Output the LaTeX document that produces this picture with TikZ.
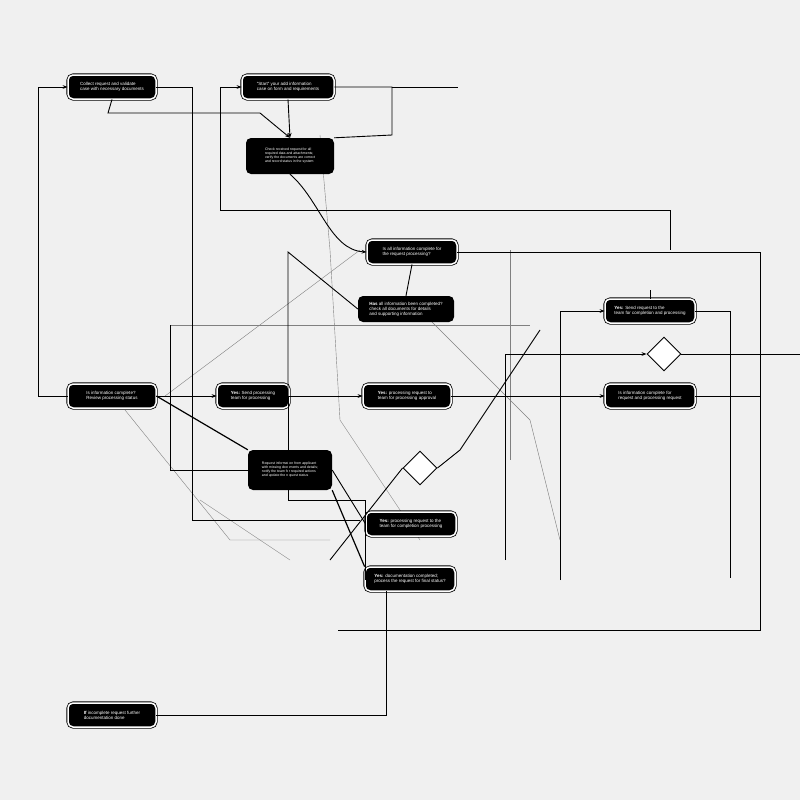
\documentclass[tikz,border=0pt]{standalone}
\usepackage{fontspec}
\setmainfont{Liberation Sans}
\usetikzlibrary{shapes.geometric,arrows.meta}
\begin{document}
\begin{tikzpicture}[x=1pt,y=-1pt,
 box/.style={fill=black,text=white,rounded corners=5pt,minimum height=24pt,font=\fontsize{4.5}{5}\selectfont,align=left,inner sep=2pt},
 ring/.style={box,double=white,draw=black,double distance=1.5pt,line width=0.8pt},
 dia/.style={diamond,draw,line width=0.9pt,fill=white,minimum size=34pt,inner sep=0pt},
 ln/.style={line width=0.9pt},
 thin/.style={line width=0.4pt,gray},
 arr/.style={ln,-{Stealth[length=5pt]}}]
\fill[white!94!black] (0,0) rectangle (800,800);
\useasboundingbox (0,0) rectangle (800,800);
% thin background lines
\draw[thin] (125,410) -- (230,540) -- (330,540);
\draw[thin] (165,396) -- (360,250);
\draw[thin] (430,320) -- (530,420) -- (560,540);
\draw[thin] (320,135) -- (330,250) -- (340,420) -- (420,540);
\draw[thin] (170,325) -- (530,325);
\draw[thin] (510,250) -- (510,460);
\draw[thin] (200,500) -- (290,560);
% nodes
\node[ring,minimum width=88pt] (A) at (112,87) {Collect request and validate\\ case with necessary documents};
\node[ring,minimum width=92pt] (B) at (288,87) {"Start" your add information\\ case on form and requirements};
\node[box,minimum width=88pt,minimum height=36pt,font=\fontsize{3.5}{4}\selectfont] (C) at (290,156) {Check received request for all\\ required data and attachments;\\ verify the documents are correct\\ and record status in the system};
\node[ring,minimum width=90pt] (D) at (412,252) {Is all information complete for\\ the request processing?};
\node[box,minimum width=96pt,minimum height=26pt] (E) at (406,309) {\textbf{Has} all information been completed?\\ check all documents for details\\ and supporting information};
\node[ring,minimum width=90pt] (F) at (650,311) {\textbf{Yes:} Send request to the\\ team for completion and processing};
\node[dia] (G) at (664,354) {};
\node[ring,minimum width=88pt] (H) at (112,396) {Is information complete?\\ Review processing status};
\node[ring,minimum width=72pt] (I) at (253,396) {\textbf{Yes:} Send processing\\ team for processing};
\node[ring,minimum width=88pt] (J) at (407,396) {\textbf{Yes:} processing request to\\ team for processing approval};
\node[ring,minimum width=90pt] (K) at (650,396) {Is information complete for\\ request and processing request};
\node[box,minimum width=84pt,minimum height=40pt,font=\fontsize{3.5}{4}\selectfont] (L) at (290,470) {Request information from applicant\\ with missing documents and details;\\ notify the team for required actions\\ and update the request status};
\node[dia] (M) at (420,468) {};
\node[ring,minimum width=90pt] (N) at (411,524) {\textbf{Yes:} processing request to the\\ team for completion processing};
\node[ring,minimum width=90pt] (O) at (410,579) {\textbf{Yes:} documentation completed;\\ process the request for final status?};
\node[ring,minimum width=88pt] (P) at (112,715) {\textbf{If} incomplete request further\\ documentation done};
% connectors
\draw[arr] (H.west) -- (38,396) -- (38,87) -- (A.west);
\draw[arr] (A.south) -- (108,113) -- (260,113) -- (C.north);
\draw[arr] (B.south) -- (C.north);
\draw[ln] (A.east) -- (192,87) -- (192,520) -- (360,520);
\draw[arr] (220,210) -- (220,87) -- (B.west);
\draw[ln] (220,210) -- (670,210) -- (670,250);
\draw[ln] (B.east) -- (392,87) -- (392,135) -- (C.north east);
\draw[ln] (392,87) -- (458,87);
\draw[arr] (C.south) .. controls (320,200) and (330,250) .. (D.west);
\draw[ln] (D.east) -- (760,252) -- (760,630) -- (338,630);
\draw[ln] (D.south) -- (E.north);
\draw[ln] (E.west) -- (288,252) -- (288,396);
\draw[ln] (288,396) -- (288,500) -- (365,500) -- (365,579) -- (O.west);
\draw[ln] (170,325) -- (170,470) -- (L.west);
\draw[arr] (H.east) -- (I.west);
\draw[arr] (I.east) -- (J.west);
\draw[arr] (J.east) -- (K.west);
\draw[ln] (K.east) -- (760,396);
\draw[ln,line width=1.2pt] (H.east) -- (L.north west);
\draw[ln,line width=1.2pt] (L.south east) -- (O.north west);
\draw[ln] (L.east) -- (N.west);
\draw[ln] (330,560) -- (M.west);
\draw[ln] (M.east) -- (460,450) -- (540,330);
\draw[arr] (560,580) -- (560,311) -- (F.west);
\draw[arr] (505,560) -- (505,354) -- (G.west);
\draw[ln] (G.east) -- (800,354);
\draw[ln] (F.east) -- (730,311) -- (730,578);
\draw[ln] (F.north) -- (650,290);
\draw[ln] (O.south -| 386,0) -- (386,715) -- (P.east);
\end{tikzpicture}
\end{document}
